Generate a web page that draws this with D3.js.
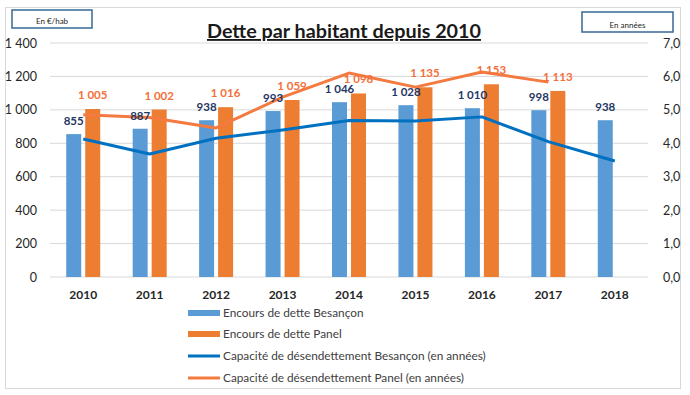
<!DOCTYPE html>
<html><head><meta charset="utf-8">
<script src="https://cdn.jsdelivr.net/npm/d3@7"></script>
<style>body{margin:0;background:#fff}svg{display:block;font-family:Lato,"Open Sans",sans-serif}</style>
</head><body><svg id="c" width="690" height="395"></svg>
<script>
const years = ["2010","2011","2012","2013","2014","2015","2016","2017","2018"];
const encoursBesancon = [855,887,938,993,1046,1028,1010,998,938];
const encoursPanel = [1005,1002,1016,1059,1098,1135,1153,1113,null];
const capaBesancon = [4.13,3.68,4.15,4.40,4.68,4.67,4.79,4.05,3.47];
const capaPanel = [4.85,4.77,4.46,5.38,6.10,5.68,6.13,5.83,null];
const leftTicks = [0,200,400,600,800,1000,1200,1400];
const rightTicks = [0,1,2,3,4,5,6,7];
const legendLabels = ["Encours de dette Besançon","Encours de dette Panel","Capacité de désendettement Besançon (en années)","Capacité de désendettement Panel (en années)"];

const C = {barB:"#5B9BD5", barP:"#ED7D31", lineB:"#0070C0", lineP:"#F47A40", labB:"#1F3864", labP:"#F4703A", grid:"#D9D9D9", txt:"#404040"};
const svg = d3.select("#c");
const L=50, R=648, T=43, B=277;

svg.append("rect").attr("x",5.5).attr("y",7.5).attr("width",675).attr("height",381).attr("fill","#fff").attr("stroke","#D9D9D9");

const pi = 1-34/((R-L)/years.length);
const x0 = d3.scaleBand().domain(years).range([L,R]).paddingInner(pi).paddingOuter(pi/2);
const x1 = d3.scaleBand().domain(["b","p"]).range([0,x0.bandwidth()]).paddingInner(0.2105);
const yL = d3.scaleLinear().domain([0,1400]).range([B,T]);
const yR = d3.scaleLinear().domain([0,7]).range([B,T]);
const cx = y => x0(y)+x0.bandwidth()/2;

// grid
svg.append("g").selectAll("line").data(leftTicks).join("line")
  .attr("x1",L).attr("x2",R).attr("y1",d=>yL(d)).attr("y2",d=>yL(d)).attr("stroke",C.grid).attr("stroke-width",1);

// axes
const fmt = d => d3.format(",")(d).replace(/,/g," ");
const ga = svg.append("g").attr("transform",`translate(${L-6},0)`)
  .call(d3.axisLeft(yL).tickValues(leftTicks).tickFormat(fmt).tickSize(0).tickPadding(7));
ga.select(".domain").remove();
ga.selectAll("text").attr("font-size",12.5).attr("fill","#262626").attr("font-family","Lato");
const gr = svg.append("g").attr("transform",`translate(${R+10},0)`)
  .call(d3.axisRight(yR).tickValues(rightTicks).tickFormat(d=>d3.format(".1f")(d).replace(".",",")).tickSize(0).tickPadding(5));
gr.select(".domain").remove();
gr.selectAll("text").attr("font-size",12.5).attr("fill","#262626").attr("font-family","Lato");
const gx = svg.append("g").attr("transform",`translate(0,${B+13})`)
  .call(d3.axisBottom(x0).tickSize(0).tickPadding(0));
gx.select(".domain").remove();
gx.selectAll("text").attr("font-size",12).attr("font-weight",700).attr("fill","#262626").attr("font-family","Lato");

// bars
const rows = years.map((y,i)=>({y, b:encoursBesancon[i], p:encoursPanel[i], cb:capaBesancon[i], cp:capaPanel[i]}));
const g = svg.append("g");
g.selectAll("rect.b").data(rows).join("rect").attr("class","b")
  .attr("x",d=>x0(d.y)+x1("b")).attr("width",x1.bandwidth()).attr("y",d=>yL(d.b)).attr("height",d=>B-yL(d.b)).attr("fill",C.barB);
g.selectAll("rect.p").data(rows.filter(d=>d.p!=null)).join("rect").attr("class","p")
  .attr("x",d=>x0(d.y)+x1("p")).attr("width",x1.bandwidth()).attr("y",d=>yL(d.p)).attr("height",d=>B-yL(d.p)).attr("fill",C.barP);

// lines
const lineB = d3.line().x(d=>cx(d.y)).y(d=>yR(d.cb));
const lineP = d3.line().defined(d=>d.cp!=null).x(d=>cx(d.y)).y(d=>yR(d.cp));
svg.append("path").datum(rows).attr("d",lineB).attr("fill","none").attr("stroke",C.lineB).attr("stroke-width",3).attr("stroke-linejoin","round");
svg.append("path").datum(rows).attr("d",lineP).attr("fill","none").attr("stroke",C.lineP).attr("stroke-width",3).attr("stroke-linejoin","round");

// labels
svg.append("g").selectAll("text").data(rows).join("text")
  .attr("x",d=>x0(d.y)+x1("b")+x1.bandwidth()/2).attr("y",d=>yL(d.b)-9)
  .attr("text-anchor","middle").attr("font-size",11.5).attr("font-weight",700).attr("fill",C.labB).text(d=>fmt(d.b));
svg.append("g").selectAll("text").data(rows.filter(d=>d.p!=null)).join("text")
  .attr("x",d=>x0(d.y)+x1("p")+x1.bandwidth()/2).attr("y",d=>yL(d.p)-10)
  .attr("text-anchor","middle").attr("font-size",11.5).attr("font-weight",700).attr("fill",C.labP).text(d=>fmt(d.p));

// title
svg.append("text").attr("x",344).attr("y",38).attr("text-anchor","middle").attr("font-size",18.5).attr("font-weight",700)
  .attr("fill","#1a1a1a").attr("text-decoration","underline").attr("textLength",274).attr("lengthAdjust","spacingAndGlyphs").text("Dette par habitant depuis 2010");

// unit boxes
[[12,10,80,18,"En €/hab"],[582,12,91,20,"En années"]].forEach(b=>{
  svg.append("rect").attr("x",b[0]).attr("y",b[1]).attr("width",b[2]).attr("height",b[3]).attr("fill","#fff").attr("stroke","#41719C").attr("stroke-width",1.6);
  svg.append("text").attr("x",b[0]+b[2]/2).attr("y",b[1]+b[3]-4).attr("text-anchor","middle").attr("font-size",8).attr("fill","#262626").text(b[4]);
});

// legend
const lg = svg.append("g");
const ly = [313,334,356,378];
const lc = [C.barB,C.barP,C.lineB,C.lineP];
legendLabels.forEach((t,i)=>{
  if(i<2) lg.append("rect").attr("x",188).attr("y",ly[i]-3).attr("width",32).attr("height",6).attr("fill",lc[i]);
  else lg.append("line").attr("x1",188).attr("x2",220).attr("y1",ly[i]).attr("y2",ly[i]).attr("stroke",lc[i]).attr("stroke-width",3);
  lg.append("text").attr("x",223).attr("y",ly[i]+4).attr("font-size",11.8).attr("fill",C.txt).text(t);
});
</script></body></html>
